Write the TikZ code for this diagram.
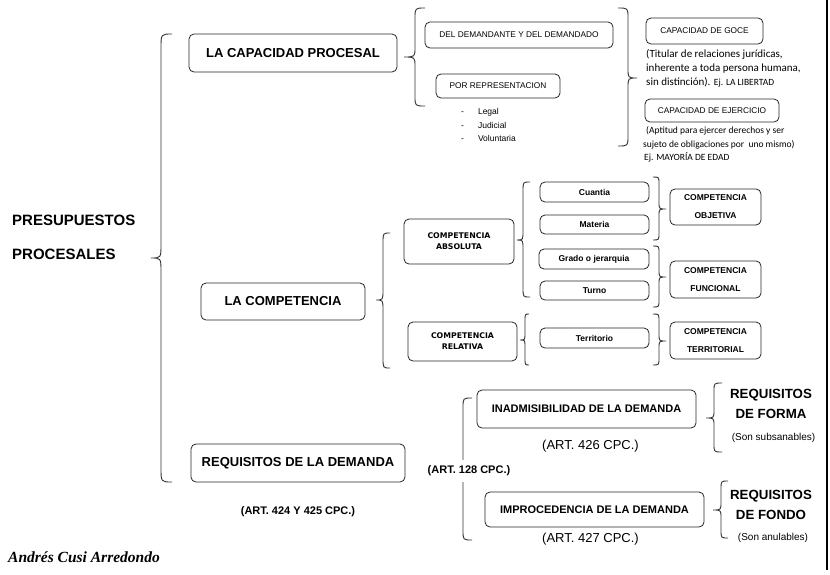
\documentclass[tikz,border=0pt]{standalone}
\usepackage{fontspec}
\setmainfont{Liberation Sans}
\newfontfamily\calib{Carlito}
\newfontfamily\dvs{DejaVu Sans}
\newfontfamily\sigfont{Liberation Serif}
% brace: xv (vertical line), xe (ends), xt (tip), ytop, ytip, ybottom, r
\newcommand{\BrK}[7]{%
  \draw[brc] (#2,#4) .. controls (#1,#4) .. (#1,#4+#7) -- (#1,#5-#7)
    .. controls (#1,#5) .. (#3,#5) .. controls (#1,#5) .. (#1,#5+#7)
    -- (#1,#6-#7) .. controls (#1,#6) .. (#2,#6);}
\begin{document}
\begin{tikzpicture}[x=1pt,y=-1pt,
  box/.style={draw=black!85, line width=0.8pt, rounded corners=5pt, inner sep=0pt, align=center},
  brc/.style={draw=black!80, line width=0.9pt},
  txt/.style={inner sep=0pt, align=center},
  fbig/.style={font=\fontsize{15}{18}\selectfont\bfseries},
  flv/.style={font=\fontsize{13}{15}\selectfont\bfseries},
  fsm/.style={font=\fontsize{8.3}{10}\selectfont},
  flist/.style={font=\fontsize{8.5}{10}\selectfont},
  fcal/.style={font=\calib\fontsize{11}{13}\selectfont},
  fcals/.style={font=\calib\fontsize{9.5}{12}\selectfont},
  fcomp/.style={font=\dvs\bfseries\fontsize{7.8}{11}\selectfont},
  fitem/.style={font=\fontsize{8.5}{10}\selectfont\bfseries},
  fres/.style={font=\fontsize{8.5}{18}\selectfont\bfseries},
  fdem/.style={font=\fontsize{11}{13}\selectfont\bfseries},
  fart/.style={font=\fontsize{13}{15}\selectfont},
  fartb/.style={font=\fontsize{11}{13}\selectfont\bfseries},
  freq/.style={font=\fontsize{13.3}{20}\selectfont\bfseries},
  fson/.style={font=\fontsize{10}{12}\selectfont},
  fsig/.style={font=\sigfont\bfseries\itshape\fontsize{15.5}{18}\selectfont}
]
\useasboundingbox[fill=white] (0,0) rectangle (830,574);

% right border line
\draw[line width=1.6pt] (827,0) -- (827,570);

% ---------- root ----------
\node[txt, fbig, anchor=west] (p1) at (12,220) {PRESUPUESTOS};
\node[txt, fbig, anchor=west] (p2) at (12,254) {PROCESALES};
\BrK{161}{172}{151}{34}{258}{482}{14}

% ---------- capacidad procesal ----------
\node[box, flv, minimum width=208, minimum height=38] (cap) at (293,53) {LA CAPACIDAD PROCESAL};
\BrK{415}{425}{404}{8}{57}{106}{10}
\node[box, fsm, minimum width=188, minimum height=26] (dd) at (519,35) {DEL DEMANDANTE Y DEL DEMANDADO};
\node[box, fsm, minimum width=124, minimum height=24] (rep) at (498,86) {POR REPRESENTACION};
\node[txt, flist, anchor=west] (l1) at (461,112) {-\hspace{14pt}Legal};
\node[txt, flist, anchor=west] (l2) at (461,125) {-\hspace{14pt}Judicial};
\node[txt, flist, anchor=west] (l3) at (461,138) {-\hspace{14pt}Voluntaria};
\BrK{628}{618}{637}{8}{78}{146}{10}
\node[box, fsm, minimum width=117, minimum height=26] (goce) at (704.5,31) {CAPACIDAD DE GOCE};
\node[txt, fcal, anchor=base west] (g1) at (646,57) {(Titular de relaciones jurídicas,};
\node[txt, fcal, anchor=base west] (g2) at (646,71.5) {inherente a toda persona humana,};
\node[txt, fcal, anchor=base west] (g3) at (646,85.5) {sin distinción). {\calib\fontsize{9.5}{12}\selectfont Ej. LA LIBERTAD}};
\node[box, fsm, minimum width=134, minimum height=23] (ejer) at (712,110.5) {CAPACIDAD DE EJERCICIO};
\node[txt, fcals, anchor=base west] (e1) at (646,133) {(Aptitud para ejercer derechos y ser};
\node[txt, fcals, anchor=base west] (e2) at (643,147) {sujeto de obligaciones por \ uno mismo)};
\node[txt, fcals, anchor=base west] (e3) at (644,160) {Ej. MAYORÍA DE EDAD};

% ---------- competencia ----------
\node[box, flv, minimum width=164, minimum height=37] (comp) at (283,301.5) {LA COMPETENCIA};
\BrK{383}{390}{376}{233}{300}{368}{10}
\node[box, fcomp, minimum width=110, minimum height=45] (abs) at (459,241.5) {COMPETENCIA\\ABSOLUTA};
\node[box, fcomp, minimum width=109, minimum height=39] (rel) at (462.5,341.5) {COMPETENCIA\\RELATIVA};
\BrK{523}{530}{517}{182}{240}{297}{9}
\BrK{525}{529}{520}{314}{340}{365}{7}
\node[box, fitem, minimum width=109, minimum height=20] (cua) at (594.5,192) {Cuantia};
\node[box, fitem, minimum width=109, minimum height=19] (mat) at (594.5,224.5) {Materia};
\node[box, fitem, minimum width=110, minimum height=20] (gra) at (594,259) {Grado o jerarquia};
\node[box, fitem, minimum width=109, minimum height=19] (tur) at (594.5,290.5) {Turno};
\node[box, fitem, minimum width=109, minimum height=20] (ter) at (594.5,338) {Territorio};
\BrK{659}{653}{666}{177}{209}{240}{7}
\BrK{659}{653}{666}{246}{277}{307}{7}
\BrK{659}{653}{666}{314}{341}{365}{7}
\node[box, fres, minimum width=91, minimum height=36] (obj) at (715.5,207) {COMPETENCIA\\OBJETIVA};
\node[box, fres, minimum width=91, minimum height=37] (fun) at (715.5,279.5) {COMPETENCIA\\FUNCIONAL};
\node[box, fres, minimum width=91, minimum height=37] (terl) at (715.5,340.5) {COMPETENCIA\\TERRITORIAL};

% ---------- requisitos de la demanda ----------
\node[box, flv, minimum width=214, minimum height=38] (req) at (298,463) {REQUISITOS DE LA DEMANDA};
\node[txt, fartb] (a424) at (298,512) {(ART. 424 Y 425 CPC.)};
\BrK{463}{472}{455}{398}{469}{540}{10}
\node[txt, fartb, fill=white, inner xsep=1pt, inner ysep=6pt] (a128) at (469,471) {(ART. 128 CPC.)};
\node[box, fdem, minimum width=219, minimum height=38] (inad) at (586.5,409) {INADMISIBILIDAD DE LA DEMANDA};
\node[txt, fart] (a426) at (590.5,446) {(ART. 426 CPC.)};
\node[box, fdem, minimum width=219, minimum height=35] (impr) at (594.5,509.5) {IMPROCEDENCIA DE LA DEMANDA};
\node[txt, fart] (a427) at (590.5,539) {(ART. 427 CPC.)};
\BrK{714}{722}{706}{383}{418}{452}{8}
\BrK{721}{728}{713}{481}{510}{538}{8}
\node[txt, freq] (rf) at (771,404) {REQUISITOS\\DE FORMA};
\node[txt, fson] (sf) at (773.5,438) {(Son subsanables)};
\node[txt, freq] (rd) at (771,504.5) {REQUISITOS\\DE FONDO};
\node[txt, fson] (sa) at (773,538) {(Son anulables)};

% ---------- signature ----------
\node[txt, fsig, anchor=base west] (sig) at (8,562) {Andrés Cusi Arredondo};
\end{tikzpicture}
\end{document}
